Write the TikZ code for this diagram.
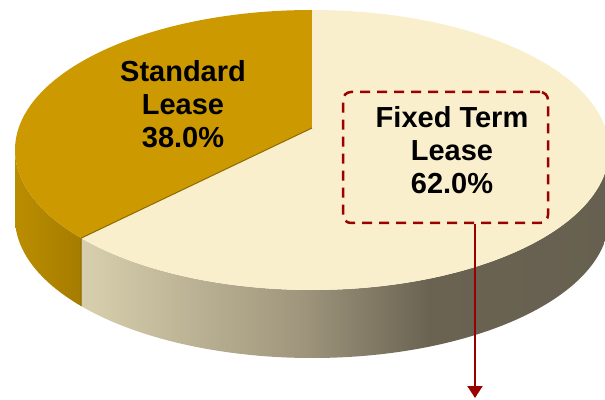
\documentclass[tikz,border=0pt]{standalone}
\usepackage{fontspec}
\setmainfont{Liberation Sans}
\usetikzlibrary{arrows.meta}

\definecolor{stdtop}{RGB}{204,153,0}
\definecolor{stdsideL}{RGB}{186,141,0}
\definecolor{stdsideR}{RGB}{166,124,0}
\definecolor{stdedge}{RGB}{140,104,0}
\definecolor{fixtop}{RGB}{250,239,204}
\definecolor{sideA}{RGB}{214,205,172}
\definecolor{sideB}{RGB}{158,149,124}
\definecolor{sideC}{RGB}{106,99,82}
\definecolor{sideD}{RGB}{98,92,77}
\definecolor{boxred}{RGB}{153,0,0}

\pgfdeclarehorizontalshading{fixside}{100bp}{color(0bp)=(sideA); color(26bp)=(sideA); color(46bp)=(sideB); color(58bp)=(sideC); color(100bp)=(sideD)}

\tikzset{
  rim/.style={x radius=297pt, y radius=140pt},
  pielabel/.style={font=\bfseries\fontsize{29}{33}\selectfont, align=center, text=black},
  calloutbox/.style={draw=boxred, line width=2.5pt, dash pattern=on 10pt off 7pt,
    rounded corners=8pt, minimum width=205pt, minimum height=131pt, inner sep=0pt},
  callout/.style={draw=boxred, line width=2pt, -{Triangle[length=12pt,width=15pt]}}
}

\begin{document}
\begin{tikzpicture}[x=1pt,y=1pt]
  \clip (0,0) rectangle (605,399);

  % top ellipse centred at (312,249), slab is 68 deep
  \coordinate (apex) at (312,271);
  \coordinate (top) at (312,389);
  \coordinate (cut) at ([shift={(219:297pt and 140pt)}]312,249);
  \coordinate (west) at ([shift={(180:297pt and 140pt)}]312,249);

  % sides
  \shade [shading=fixside] (cut) arc [rim, start angle=219, end angle=360]
    -- ++(0,-68) arc [rim, start angle=360, end angle=219] -- cycle;
  \shade [left color=stdsideL, right color=stdsideR] (west) arc [rim, start angle=180, end angle=219]
    -- ++(0,-68) arc [rim, start angle=219, end angle=180] -- cycle;

  % tops
  \fill [stdtop] (apex) -- (top) arc [rim, start angle=90, end angle=219] -- cycle;
  \fill [fixtop] (apex) -- (top) arc [rim, start angle=90, end angle=-141] -- cycle;
  \draw [stdedge, line width=1pt] (apex) -- (cut) -- ++(0,-68);

  \node [pielabel] (stdlbl) at (183,295) {Standard\\Lease\\38.0\%};
  \node [pielabel] (fixlbl) at (452,249) {Fixed Term\\Lease\\62.0\%};
  \node [calloutbox] (fixbox) at (445.5,241.5) {};

  \coordinate (tipend) at (475,1);
  \draw [callout] (fixbox.south -| tipend) -- (tipend);
\end{tikzpicture}
\end{document}
